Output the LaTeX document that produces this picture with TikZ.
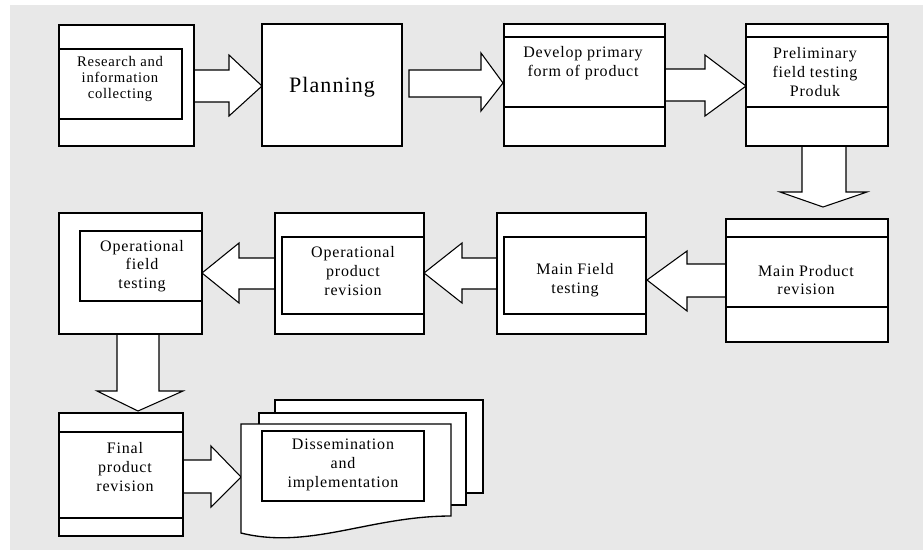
\documentclass[tikz,border=0pt]{standalone}
\usepackage{fontspec}
\setmainfont[LetterSpace=5]{Liberation Serif}
\definecolor{bgray}{RGB}{232,232,232}
\begin{document}
\begin{tikzpicture}[x=0.75pt,y=-0.75pt,
  bx/.style={draw=black, fill=white, line width=1pt},
  sep/.style={draw=black, line width=1pt},
  barrow/.style={draw=black, fill=white, line width=0.8pt, line join=miter},
  lbl/.style={align=center, inner sep=0pt, font=\fontsize{12}{14}\selectfont},
  slbl/.style={align=center, inner sep=0pt, font=\fontsize{11}{11.8}\selectfont}]
\useasboundingbox (0,0) rectangle (923,550);
\fill[bgray] (10,5) rectangle (923,550);

% block arrows
\draw[barrow] (194,70) -- (229,70) -- (229,55) -- (262,86) -- (229,116) -- (229,102) -- (194,102);
\draw[barrow] (409,70) -- (481,70) -- (481,53) -- (503,83) -- (481,111) -- (481,97) -- (409,97) -- cycle;
\draw[barrow] (665,69) -- (705,69) -- (705,55) -- (746,86) -- (705,116) -- (705,101) -- (665,101);
\draw[barrow] (802,146) -- (802,192) -- (780,192) -- (823,207) -- (867,192) -- (846,192) -- (846,146);
\draw[barrow] (726,264) -- (687,264) -- (687,251) -- (647,280) -- (687,311) -- (687,297) -- (726,297);
\draw[barrow] (497,258) -- (462,258) -- (462,243) -- (424,273) -- (462,303) -- (462,289) -- (497,289);
\draw[barrow] (275,258) -- (239,258) -- (239,243) -- (202,273) -- (239,303) -- (239,289) -- (275,289);
\draw[barrow] (117,334) -- (117,391) -- (97,391) -- (138,411) -- (183,391) -- (159,391) -- (159,334);
\draw[barrow] (183,460) -- (211,460) -- (211,446) -- (241,477) -- (211,507) -- (211,493) -- (183,493);

% 1 Research
\draw[bx] (59,25) rectangle (194,146);
\draw[bx] (59,49) rectangle (182,119);
\node[slbl] (research) at (120,79) {Research and\\information\\collecting};

% 2 Planning
\draw[bx] (262,24) rectangle (402,146);
\node[inner sep=0pt, font=\fontsize{16.5}{18}\selectfont] (planning) at (332,87) {Planning};

% 3 Develop
\draw[bx] (504,24) rectangle (665,146);
\draw[sep] (504,37) -- (665,37);
\draw[sep] (504,107) -- (665,107);
\node[lbl] (develop) at (583,63) {Develop primary\\form of product};

% 4 Preliminary
\draw[bx] (746,24) rectangle (888,146);
\draw[sep] (746,37) -- (888,37);
\draw[sep] (746,107) -- (888,107);
\node[lbl] (prelim) at (815,72) {Preliminary\\field testing\\Produk};

% 5 Main Product revision
\draw[bx] (726,219) rectangle (888,342);
\draw[sep] (726,237) -- (888,237);
\draw[sep] (726,307) -- (888,307);
\node[lbl] (mainprod) at (806,280) {Main Product\\revision};

% 6 Main Field testing
\draw[bx] (497,213) rectangle (646,334);
\draw[bx] (504,237) rectangle (646,314);
\node[lbl] (mainfield) at (575,280) {Main Field\\testing};

% 7 Operational product revision
\draw[bx] (275,213) rectangle (424,334);
\draw[bx] (282,237) rectangle (424,314);
\node[lbl] (opprod) at (353,271) {Operational\\product\\revision};

% 8 Operational field testing
\draw[bx] (59,213) rectangle (202,334);
\draw[bx] (80,231) rectangle (202,301);
\node[lbl] (opfield) at (142,266) {Operational\\field\\testing};

% 9 Final product revision
\draw[bx] (59,413) rectangle (183,536);
\draw[sep] (59,432) -- (183,432);
\draw[sep] (59,518) -- (183,518);
\node[lbl] (final) at (125,467) {Final\\product\\revision};

% 10 Dissemination (multi-document)
\draw[bx] (275,400) rectangle (483,493);
\draw[bx] (259,413) rectangle (466,505);
\draw[bx] (241,424) -- (451,424) -- (451,516)
  .. controls (370,516) and (310,550) .. (241,533) -- cycle;
\draw[bx] (262,431) rectangle (424,501);
\node[lbl] (dissem) at (343,465) {Dissemination\\and\\implementation};
\end{tikzpicture}
\end{document}
